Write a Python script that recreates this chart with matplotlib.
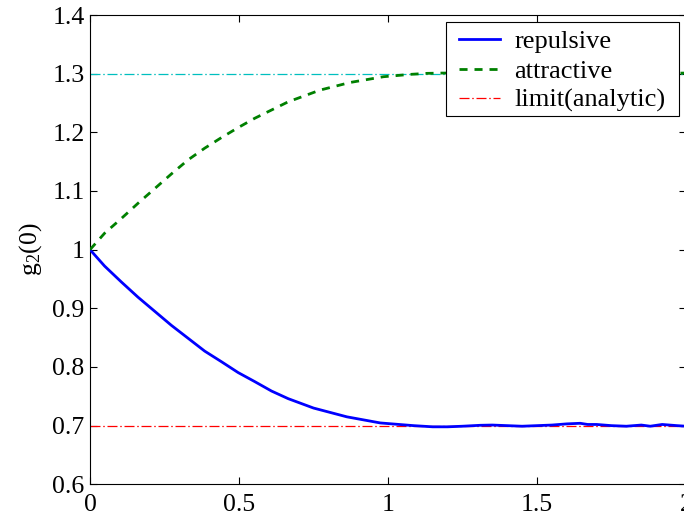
import matplotlib
matplotlib.use("Agg")
import matplotlib.pyplot as plt
from matplotlib.patches import Rectangle

plt.rcParams['font.family'] = ['Liberation Serif', 'DejaVu Serif']
plt.rcParams['mathtext.fontset'] = 'custom'
plt.rcParams['mathtext.rm'] = 'Liberation Serif'
plt.rcParams['mathtext.it'] = 'Liberation Serif:italic'

# repulsive curve
rep_x = [0, 0.049, 0.105, 0.161, 0.217, 0.273, 0.329, 0.385, 0.441, 0.497, 0.553,
         0.609, 0.665, 0.75, 0.862, 0.974, 1.086, 1.15, 1.2, 1.25, 1.31, 1.35, 1.4,
         1.45, 1.5, 1.55, 1.6, 1.645, 1.67, 1.7, 1.75, 1.8, 1.85, 1.88, 1.92, 1.97, 2.0]
rep_y = [1.0, 0.972, 0.945, 0.919, 0.895, 0.871, 0.849, 0.827, 0.809, 0.7905, 0.775,
         0.759, 0.746, 0.730, 0.715, 0.7046, 0.700, 0.698, 0.698, 0.699, 0.7006, 0.701, 0.700,
         0.699, 0.700, 0.701, 0.703, 0.704, 0.702, 0.702, 0.700, 0.699, 0.701, 0.699, 0.702, 0.700, 0.699]

# attractive curve
att_x = [0, 0.049, 0.105, 0.161, 0.217, 0.273, 0.329, 0.385, 0.441, 0.497, 0.553,
         0.609, 0.665, 0.772, 0.873, 0.985, 1.075, 1.13, 1.18, 1.25, 1.5, 1.75, 2.0]
att_y = [1.0, 1.028, 1.053, 1.079, 1.104, 1.129, 1.153, 1.173, 1.191, 1.208, 1.224,
         1.238, 1.252, 1.272, 1.285, 1.2948, 1.2988, 1.3005, 1.301, 1.301, 1.300, 1.300, 1.301]

# analytic limits
lim_x = [0, 2]
lim_rep = [0.7, 0.7]
lim_att = [1.3, 1.3]

xticks = [0, 0.5, 1, 1.5, 2]
xticklabels = ['0', '0.5', '1', '1.5', '2']
yticks = [0.6, 0.7, 0.8, 0.9, 1.0, 1.1, 1.2, 1.3, 1.4]
yticklabels = ['0.6', '0.7', '0.8', '0.9', '1', '1.1', '1.2', '1.3', '1.4']

W, H = 684, 515
fig = plt.figure(figsize=(W / 100, H / 100), dpi=100)
ax = fig.add_axes([90/W, 1 - 484.3/H, 596/W, (484.3 - 15)/H])

ax.plot(rep_x, rep_y, color='#0000ff', lw=2.0, label='repulsive', zorder=3)
ax.plot(att_x, att_y, color='#008000', lw=2.0, ls=(0, (2.9, 2.5)), label='attractive', zorder=3)
ax.plot(lim_x, lim_rep, color='#ff0000', lw=0.9, ls=(0, (8, 2.2, 1.2, 2.2)), label='limit(analytic)', zorder=2)
ax.plot(lim_x, lim_att, color='#00bfbf', lw=0.9, ls=(0, (8, 2.2, 1.2, 2.2)), zorder=2)

ax.set_xlim(0, 2)
ax.set_ylim(0.6, 1.4)
ax.set_xticks(xticks)
ax.set_xticklabels(xticklabels)
ax.set_yticks(yticks)
ax.set_yticklabels(yticklabels)
ax.tick_params(direction='in', top=True, right=True, length=5, width=0.8,
               labelsize=18.5)
ax.tick_params(axis='x', pad=7)
ax.tick_params(axis='y', pad=4)
for s in ax.spines.values():
    s.set_linewidth(0.8)

ax.set_ylabel(r'g$_2$(0)', fontsize=18.5, labelpad=6)

# legend box drawn as a frame in figure pixels
frame = Rectangle((446/W, 1 - 116/H), (679 - 446)/W, (116 - 22)/H,
                  transform=fig.transFigure, facecolor='white', edgecolor='black',
                  linewidth=0.8, zorder=4)
fig.add_artist(frame)

leg = ax.legend(loc='upper left', bbox_to_anchor=(459/W, 1 - 30/H),
                bbox_transform=fig.transFigure, borderaxespad=0,
                fontsize=19, frameon=False, handlelength=1.55, handletextpad=0.55,
                labelspacing=0.22, borderpad=0)
leg.set_zorder(5)
fig.add_artist(leg)

fig.savefig('out.png', dpi=100)
